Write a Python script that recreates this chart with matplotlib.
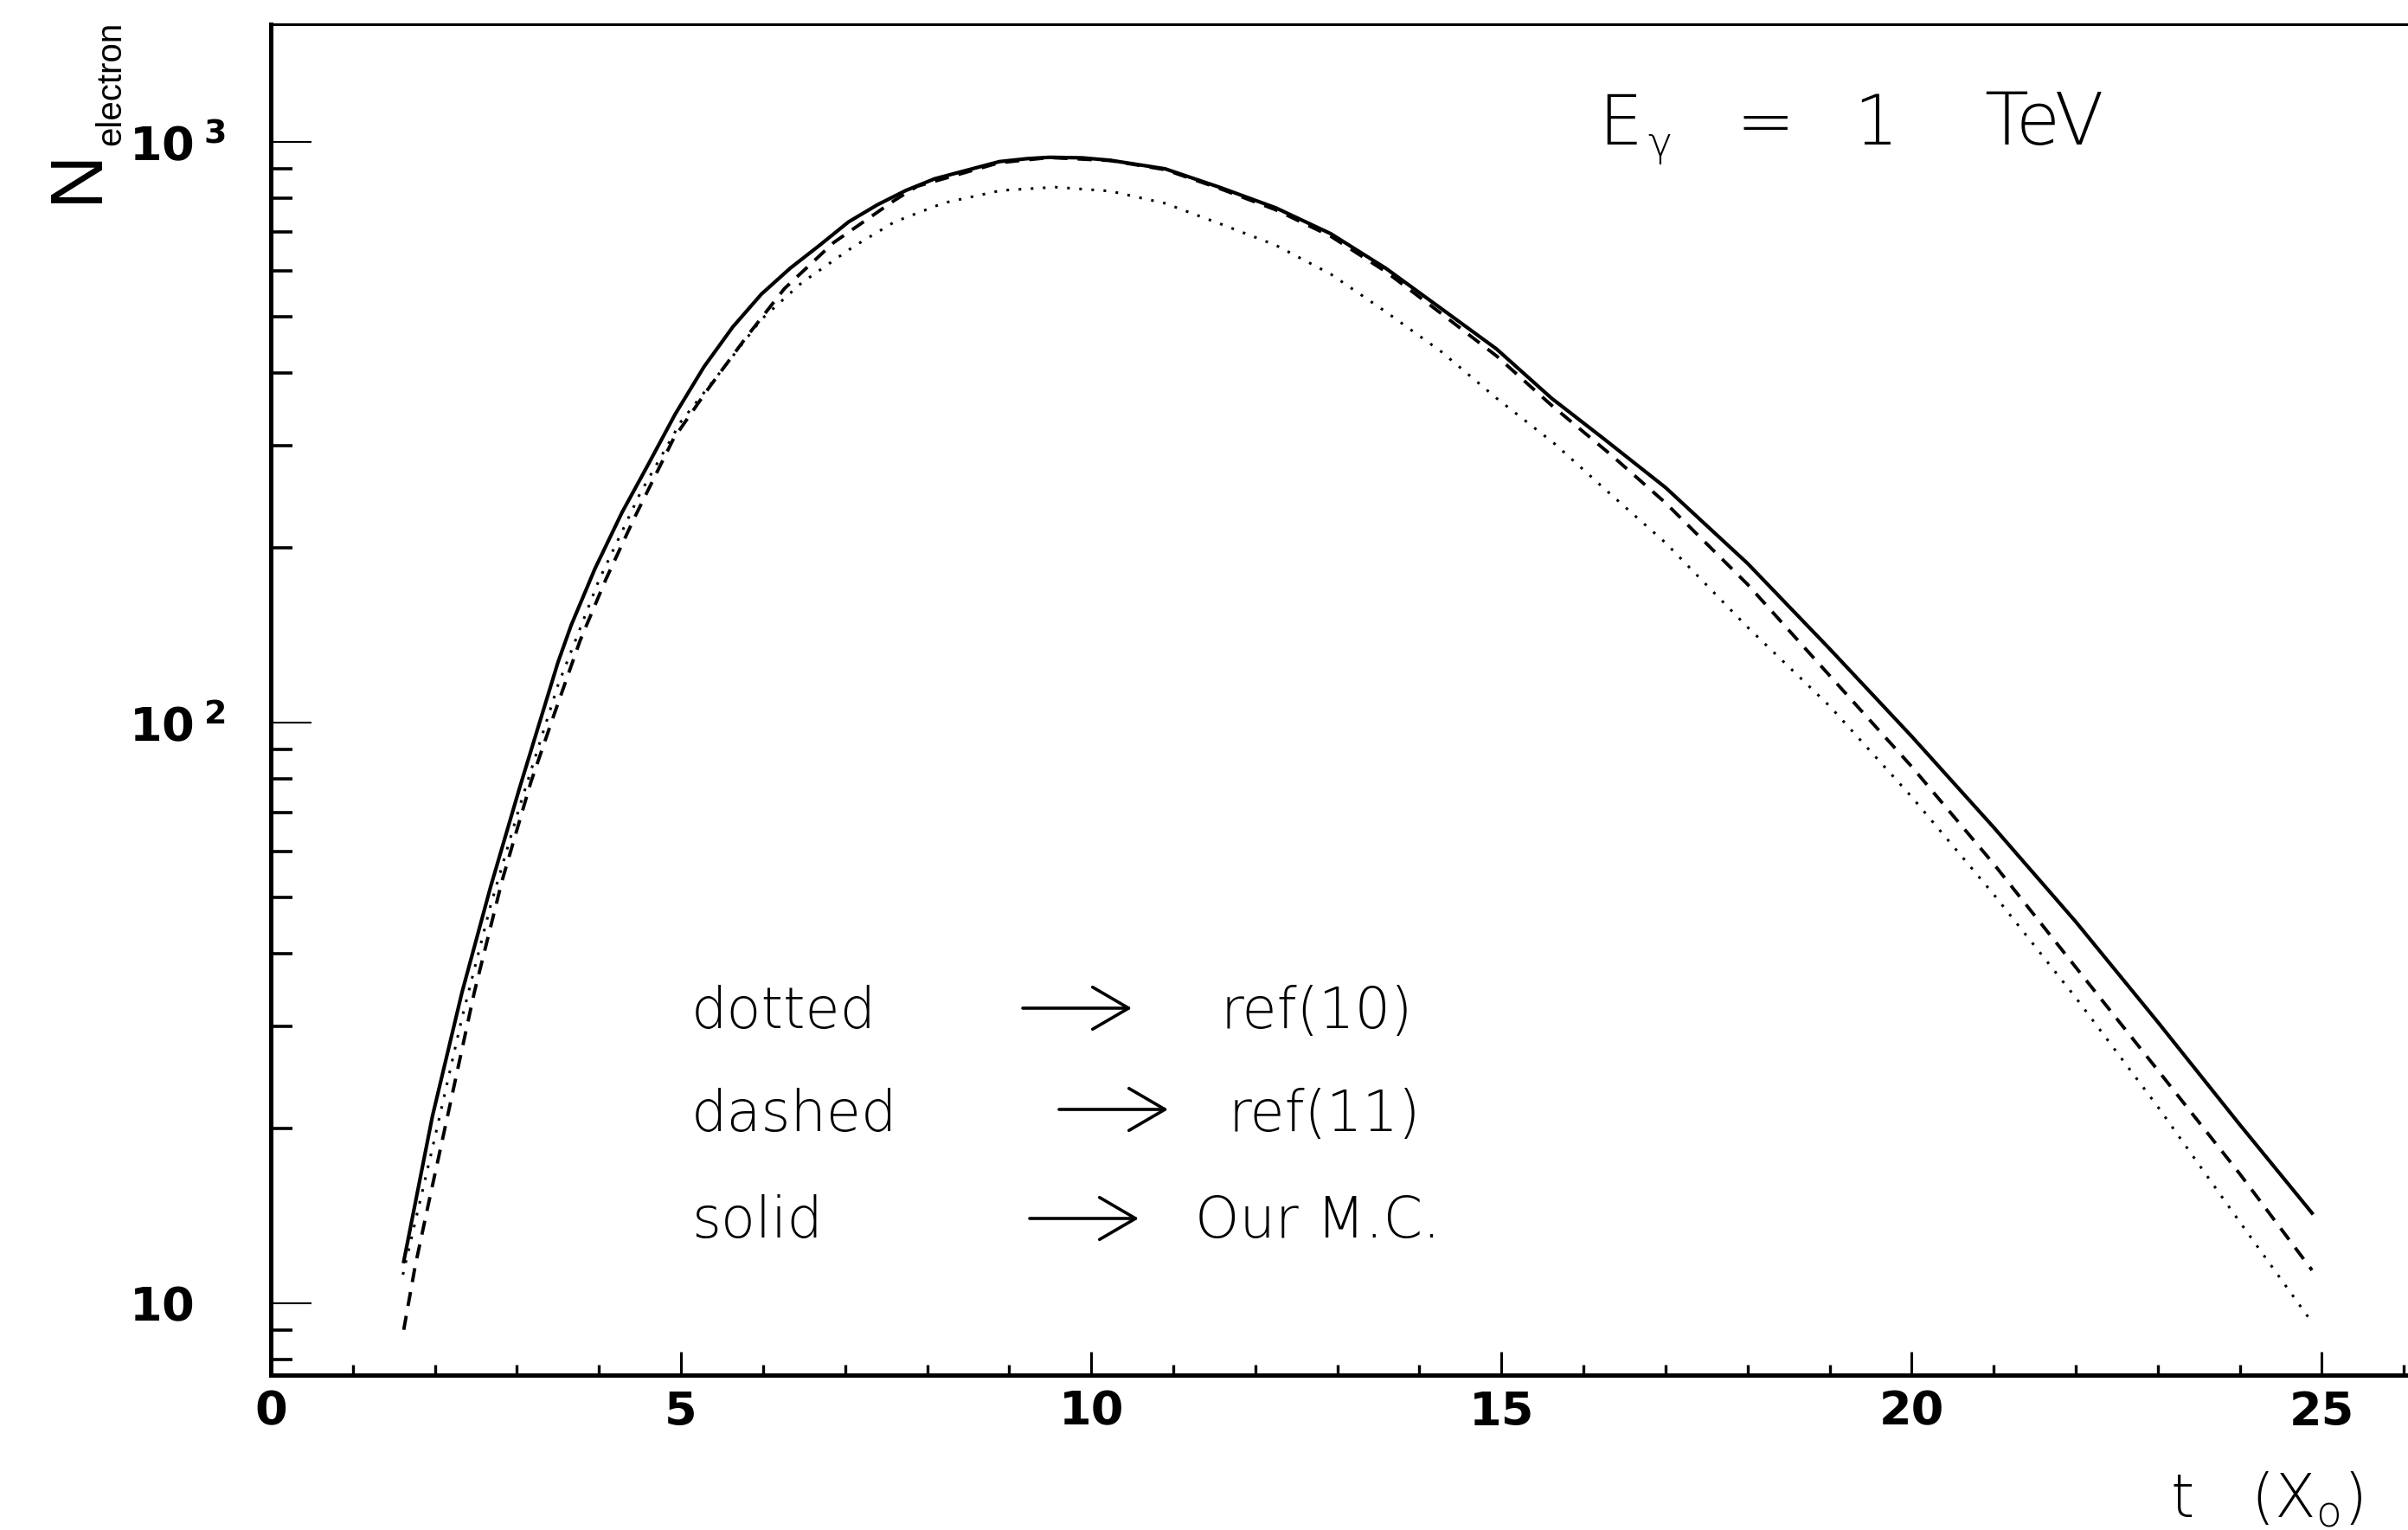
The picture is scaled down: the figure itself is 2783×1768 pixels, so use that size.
import matplotlib
matplotlib.use("Agg")
import matplotlib.pyplot as plt
import matplotlib.ticker as mticker
from matplotlib import font_manager as fm
from matplotlib.patches import FancyArrowPatch, ArrowStyle

# ── data ─────────────────────────────────────────────────────────────────────
t_solid = [1.62, 1.97, 2.33, 2.68, 3.03, 3.5, 3.66, 3.95, 4.28, 4.58, 4.93, 5.28,
           5.63, 5.98, 6.33, 6.69, 7.04, 7.39, 7.74, 8.09, 8.88, 9.22, 9.49, 9.89,
           10.23, 10.9, 11.57, 12.25, 12.92, 13.59, 14.27, 14.94, 15.61, 16.25,
           17.0, 18.0, 19.0, 20.0, 21.0, 22.0, 23.0, 24.0, 24.88]
n_solid = [11.8, 21.0, 34.3, 52.2, 77.0, 127, 147, 184, 230, 275, 340, 410,
           480, 547, 606, 664, 728, 779, 825, 864, 925, 936, 941, 939,
           930, 899, 835, 770, 695, 606, 516, 440, 362, 308,
           254, 188, 134, 94.7, 66.0, 45.4, 30.5, 20.3, 14.3]

t_dashed = [1.62, 1.76, 1.92, 2.2, 2.48, 2.82, 3.17, 3.45, 3.77, 4.08, 4.43, 4.91,
            5.35, 5.79, 6.26, 6.86, 7.6, 7.88, 8.88, 9.49, 10.23, 10.9, 11.57,
            12.25, 12.92, 13.59, 14.27, 14.94, 15.61, 16.35, 17.0, 18.0, 19.0,
            20.0, 21.0, 22.0, 23.0, 24.0, 24.88]
n_dashed = [9.0, 11.6, 14.8, 22.5, 34.3, 53.5, 79, 103, 138.5, 176, 225, 308.6,
            379, 460, 559, 671, 793, 839, 921, 940, 929, 896, 831,
            764, 688, 598, 506, 428, 352, 288, 239, 173, 120.5,
            84, 57.1, 37.9, 25.2, 16.7, 11.4]

t_dotted = [1.61, 1.97, 2.33, 2.68, 3.03, 3.5, 4.0, 4.5, 5.0, 5.5, 5.98, 6.47,
            7.1, 7.6, 8.2, 8.9, 9.56, 10.23, 10.9, 11.57, 12.25, 12.92, 13.59,
            14.27, 14.94, 15.65, 16.28, 17.0, 18.0, 19.0, 20.0, 21.0, 22.0,
            23.0, 24.0, 24.88]
n_dotted = [11.2, 18.5, 31.0, 48.5, 71.5, 116, 176, 248, 330, 405, 495, 572,
            660, 728, 785, 825, 836, 823, 784, 723, 664, 592, 510,
            435, 362, 302, 251, 204, 146, 106.8, 74.5, 50.6, 33.6,
            21.8, 13.8, 9.27]

xticks = [0, 5, 10, 15, 20, 25]
xtick_labels = ["0", "5", "10", "15", "20", "25"]
yticks = [10, 100, 1000]
ytick_labels = [r"$\mathbf{10}$", r"$\mathbf{10}^{\;\mathbf{2}}$", r"$\mathbf{10}^{\;\mathbf{3}}$"]

legend_words = ["dotted", "dashed", "solid"]
legend_refs = ["ref(10)", "ref(11)", "Our M.C."]

# ── fonts ─────────────────────────────────────────────────────────────────────
def _w(w):
    return w if isinstance(w, int) else fm.weight_dict.get(w, 400)

have = {(f.name, _w(f.weight)) for f in fm.fontManager.ttflist}
names = {f.name for f in fm.fontManager.ttflist}

thin_family, thin_weight = "DejaVu Sans", 400
for nm, w in [("DejaVu Sans", 200), ("Open Sans", 300), ("Lato", 300), ("Roboto", 300)]:
    if (nm, w) in have:
        thin_family, thin_weight = nm, w
        break

if "Liberation Sans Narrow" in names:
    narrow_family, n_size, sub_size = "Liberation Sans Narrow", 74, 38
else:
    narrow_family, n_size, sub_size = "Liberation Sans", 62, 29

plt.rcParams["mathtext.rm"] = f"{thin_family}:weight={thin_weight}"
plt.rcParams["mathtext.it"] = f"{thin_family}:weight={thin_weight}"

W, H, DPI = 2783, 1768, 100


def fx(px):
    return px / W


def fy(py):
    return 1 - py / H


fig = plt.figure(figsize=(W / DPI, H / DPI), dpi=DPI, facecolor="white")
ax = fig.add_axes([fx(313), fy(1589), 1 - fx(313), (1589 - 28) / H])

ax.plot(t_solid, n_solid, color="black", lw=3.0)
ax.plot(t_dashed, n_dashed, color="black", lw=2.8, linestyle=(0, (4.2, 3.0)))
ax.plot(t_dotted, n_dotted, color="black", lw=2.2, linestyle=(0, (1, 3.6)))

ax.set_yscale("log")
ax.set_xlim(0, 26.05)
ax.set_ylim(7.52, 1595)

ax.set_xticks(xticks)
ax.set_xticklabels(xtick_labels, fontfamily="DejaVu Sans", fontweight="bold", fontsize=39)
ax.xaxis.set_minor_locator(mticker.MultipleLocator(1))

ax.yaxis.set_major_locator(mticker.FixedLocator(yticks))
ax.yaxis.set_minor_locator(mticker.LogLocator(base=10, subs=range(2, 10)))
ax.yaxis.set_minor_formatter(mticker.NullFormatter())
ax.set_yticklabels(ytick_labels, fontsize=39, ha="left")

ax.tick_params(axis="x", which="major", direction="in", length=19.5, width=2.2, pad=12)
ax.tick_params(axis="x", which="minor", direction="in", length=8.6, width=2.4)
ax.tick_params(axis="y", which="major", direction="in", length=34, width=1.5, pad=118)
ax.tick_params(axis="y", which="minor", direction="in", length=18, width=2.6)

ax.spines["right"].set_visible(False)
ax.spines["left"].set_linewidth(3.6)
ax.spines["bottom"].set_linewidth(3.6)
ax.spines["top"].set_linewidth(2.2)

thin = dict(family=thin_family, fontweight=thin_weight, color="black")

# axis titles (N with a lowered "electron" subscript, reading upwards)
fig.text(fx(112), fy(234), "N", rotation=90, rotation_mode="anchor",
         ha="left", va="baseline", fontsize=n_size, family=narrow_family)
fig.text(fx(139), fy(168), "electron", rotation=90, rotation_mode="anchor",
         ha="left", va="baseline", fontsize=sub_size, family=narrow_family)
fig.text(fx(2508), fy(1753), r"t   (X$_{\mathrm{o}}$)", ha="left", va="baseline",
         fontsize=50, math_fontfamily="custom", **thin)

# energy label
fig.text(fx(1847), fy(167), "E", ha="left", va="baseline", fontsize=58, **thin)
fig.text(fx(1904), fy(180), "γ", ha="left", va="baseline", fontsize=34, **thin)
fig.text(fx(2040), fy(167), "=", ha="center", va="baseline", fontsize=58, **thin)
fig.text(fx(2168), fy(167), "1", ha="center", va="baseline", fontsize=58, **thin)
fig.text(fx(2362), fy(167), "TeV", ha="center", va="baseline", fontsize=60, **thin)

# line-style key
word_x = 799
ref_x = [1411, 1419, 1381]
baselines = [1188, 1307, 1430]
arrows = [(1182, 1308, 1165), (1224, 1350, 1282), (1190, 1316, 1408)]
style = ArrowStyle("->", head_length=0.6, head_width=0.35)
for word, ref, rx, yb, (a0, a1, ay) in zip(legend_words, legend_refs, ref_x, baselines, arrows):
    fig.text(fx(word_x), fy(yb), word, ha="left", va="baseline", fontsize=47, **thin)
    fig.text(fx(rx), fy(yb), ref, ha="left", va="baseline", fontsize=47, **thin)
    arr = FancyArrowPatch((fx(a0), fy(ay)), (fx(a1), fy(ay)), transform=fig.transFigure,
                          arrowstyle=style, mutation_scale=50, lw=2.6, color="black",
                          shrinkA=0, shrinkB=0)
    fig.add_artist(arr)

fig.savefig("out.png", dpi=DPI, facecolor="white")
